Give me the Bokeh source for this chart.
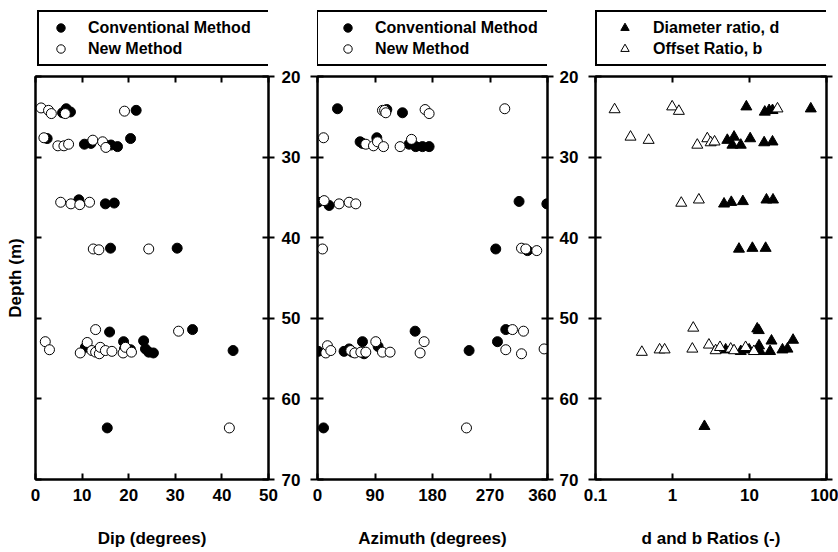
from bokeh.plotting import figure
from bokeh.layouts import row, column
from bokeh.models import (Range1d, LinearAxis, LogAxis, FixedTicker, Legend,
                          LegendItem, CustomJSTickFormatter)
from bokeh.embed import file_html
from bokeh.resources import INLINE

FONT = "Liberation Sans"

# ---------------- data ----------------
dip_conv = [5.8, 6.6, 7.5, 21.6, 2.5, 10.5, 11.9, 16.2, 17.6, 20.4, 9.3, 15.0, 16.9,
            16.1, 30.4, 15.9, 33.7, 10.7, 18.9, 19.1, 20.4, 23.2, 23.6, 24.3, 25.3, 42.4, 15.4]
depth_dip_conv = [24.5, 24.0, 24.4, 24.2, 27.7, 28.4, 28.3, 28.5, 28.7, 27.7, 35.3, 35.8, 35.7,
                  41.3, 41.3, 51.7, 51.4, 53.6, 52.9, 53.8, 53.9, 52.8, 53.8, 54.2, 54.3, 54.0, 63.6]
dip_new = [1.2, 2.8, 3.4, 6.4, 19.1, 1.8, 4.8, 6.1, 7.1, 12.3, 14.4, 15.1, 5.4, 7.6, 9.5, 11.6,
           12.4, 13.6, 24.3, 12.9, 30.7, 2.1, 3.0, 9.6, 11.1, 12.1, 12.9, 13.7, 13.9, 15.0, 16.4,
           18.8, 19.3, 20.6, 41.6]
depth_dip_new = [23.9, 24.2, 24.6, 24.6, 24.3, 27.6, 28.6, 28.6, 28.4, 27.9, 28.1, 28.8, 35.6, 35.8,
                 35.9, 35.6, 41.4, 41.5, 41.4, 51.4, 51.6, 52.9, 53.9, 54.3, 53.0, 54.0, 54.2, 54.4,
                 53.6, 54.0, 54.1, 54.3, 53.6, 54.2, 63.6]

az_conv = [31.3, 108.5, 133.0, 66.7, 70.4, 92.8, 143.4, 153.8, 164.3, 174.7, 1.0, 18.2, 315.5,
           359.0, 279.0, 328.7, 1.0, 41.6, 49.5, 54.8, 70.4, 72.9, 94.9, 152.8, 237.3, 281.7,
           294.7, 9.4]
depth_az_conv = [24.0, 24.1, 24.5, 28.1, 28.3, 27.6, 28.4, 28.7, 28.7, 28.7, 35.6, 36.0, 35.5,
                 35.8, 41.4, 41.6, 54.1, 54.1, 53.8, 54.2, 52.9, 54.4, 53.5, 51.6, 54.0, 52.9,
                 51.4, 63.6]
az_new = [101.7, 105.0, 106.9, 168.4, 174.7, 293.1, 9.4, 75.6, 87.6, 93.9, 103.3, 129.3, 147.1,
          10.4, 33.8, 49.5, 59.9, 7.8, 319.3, 326.0, 343.2, 13.0, 15.6, 20.8, 52.1, 58.4, 67.8,
          75.6, 91.2, 101.7, 113.6, 166.9, 160.6, 305.2, 322.4, 294.7, 319.3, 354.7, 233.2]
depth_az_new = [24.2, 24.2, 24.5, 24.1, 24.6, 24.0, 27.6, 28.4, 28.6, 28.1, 28.7, 28.7, 27.8,
                35.4, 35.8, 35.6, 35.8, 41.4, 41.3, 41.4, 41.6, 54.3, 53.4, 54.0, 54.0, 54.3, 54.2,
                54.2, 52.9, 54.2, 54.2, 52.9, 54.3, 51.4, 51.6, 53.9, 54.4, 53.8, 63.6]

ratio_d = [9.1, 15.8, 18.0, 19.9, 62.5, 5.15, 6.3, 6.0, 7.7, 10.2, 15.5, 19.9, 4.67, 5.8, 8.2,
           16.6, 20.2, 7.3, 10.9, 16.2, 12.6, 13.2, 4.9, 7.7, 9.9, 13.3, 13.7, 19.3, 18.5, 26.8,
           31.1, 36.8, 2.6]
depth_d = [23.75, 24.4, 24.2, 24.2, 24.0, 27.9, 27.5, 28.5, 28.5, 27.7, 28.2, 28.1, 35.8, 35.6,
           35.5, 35.3, 35.3, 41.4, 41.3, 41.3, 51.3, 51.5, 53.9, 54.1, 53.9, 53.4, 54.1, 52.8,
           54.1, 53.9, 53.8, 52.7, 63.4]
ratio_b = [0.177, 0.99, 1.21, 23.1, 0.285, 0.49, 2.1, 2.83, 3.13, 3.52, 1.3, 2.2, 1.86, 0.40,
           0.68, 0.79, 1.81, 2.97, 3.63, 4.14, 5.7, 6.3, 8.9, 11.4]
depth_b = [24.1, 23.75, 24.3, 24.0, 27.5, 27.9, 28.5, 27.7, 28.2, 28.1, 35.7, 35.3, 51.2, 54.2,
           53.9, 53.9, 53.8, 53.3, 54.0, 53.6, 53.8, 54.0, 53.6, 54.1]

depth_ticks = [20, 30, 40, 50, 60, 70]
dip_ticks = [0, 10, 20, 30, 40, 50]
az_ticks = [0, 90, 180, 270, 360]
ratio_ticks = [0.1, 1, 10, 100]

legend_labels_12 = ["Conventional Method", "New Method"]
legend_labels_3 = ["Diameter ratio, d", "Offset Ratio, b"]
x_titles = ["Dip (degrees)", "Azimuth (degrees)", "d and b Ratios (-)"]
y_title = "Depth (m)"

BLANK = CustomJSTickFormatter(code="return ''")
LW = 2
TICK_FS = "17px"
TITLE_FS = "17px"
LEG_H = 67
MAIN_H = 552 - LEG_H


def style_axis(ax, ticks, tin, tout, labels=True):
    ax.ticker = FixedTicker(ticks=ticks, minor_ticks=[])
    ax.major_tick_in = tin
    ax.major_tick_out = tout
    ax.minor_tick_line_color = None
    ax.axis_line_width = LW
    ax.major_tick_line_width = LW
    ax.axis_line_color = "black"
    ax.major_tick_line_color = "black"
    ax.major_label_text_font = FONT
    ax.major_label_text_font_style = "bold"
    ax.major_label_text_font_size = TICK_FS
    ax.major_label_text_color = "black"
    ax.axis_label_text_font = FONT
    ax.axis_label_text_font_style = "bold"
    ax.axis_label_text_font_size = TITLE_FS
    ax.axis_label_text_color = "black"
    if not labels:
        ax.formatter = BLANK
        ax.major_label_standoff = 0
        ax.major_label_text_font_size = "0px"


def make_fig(width, bl, br, x_range, xticks, xtitle, log=False, left_labels=True):
    p = figure(width=width, height=MAIN_H, x_range=x_range, y_range=Range1d(70, 20),
               x_axis_type="log" if log else "linear",
               output_backend="svg", toolbar_location=None,
               min_border_left=bl, min_border_right=br,
               min_border_top=76 - LEG_H, min_border_bottom=73)
    p.grid.visible = False
    p.outline_line_color = "black"
    p.outline_line_width = LW
    p.background_fill_color = "white"
    p.border_fill_color = "white"
    xa = p.xaxis[0]
    style_axis(xa, xticks, 6, 0)
    if log:
        xa.formatter = CustomJSTickFormatter(code="return String(tick)")
    xa.major_label_standoff = 9
    xa.axis_label = xtitle
    xa.axis_label_standoff = 25
    ya = p.yaxis[0]
    if left_labels:
        style_axis(ya, depth_ticks, 6, 7)
        ya.major_label_standoff = 10
    else:
        style_axis(ya, depth_ticks, 6, 0, labels=False)
    top = LogAxis() if log else LinearAxis()
    style_axis(top, xticks, 6, 0, labels=False)
    p.add_layout(top, "above")
    right = LinearAxis()
    style_axis(right, depth_ticks, 6, 6, labels=False)
    p.add_layout(right, "right")
    return p


def legend_fig(width, bl, br, labels, marker, xa, ya, xb, yb, loc, gw, standoff, lwid):
    # the series are plotted here only to give the legend its glyphs;
    # the y range keeps the points themselves out of view
    f = figure(width=width, height=LEG_H, x_range=Range1d(0, 1), y_range=Range1d(-2, -1),
               x_axis_location=None, y_axis_location=None,
               output_backend="svg", toolbar_location=None,
               min_border_left=bl, min_border_right=br, min_border_top=0, min_border_bottom=0)
    f.grid.visible = False
    f.outline_line_color = None
    f.background_fill_color = "white"
    f.border_fill_color = "white"
    ra = f.scatter(xa, ya, marker=marker, size=10, fill_color="black", line_color="black")
    rb = f.scatter(xb, yb, marker=marker, size=10, fill_color="white", line_color="black",
                   line_width=1)
    leg = Legend(items=[LegendItem(label=labels[0], renderers=[ra]),
                        LegendItem(label=labels[1], renderers=[rb])],
                 location=loc, orientation="vertical",
                 label_text_font=FONT, label_text_font_style="bold",
                 label_text_font_size="16px", label_text_color="black",
                 border_line_color="black", border_line_width=2, border_line_alpha=1.0,
                 background_fill_color="white", background_fill_alpha=1.0,
                 padding=5, spacing=0, margin=0,
                 glyph_width=gw, glyph_height=21, label_height=21,
                 label_standoff=standoff, label_width=lwid)
    f.add_layout(leg, "center")
    return f


# ---------- panel 1: dip ----------
p1 = make_fig(278, 35, 10, Range1d(0, 50), dip_ticks, x_titles[0], left_labels=False)
p1.yaxis[0].axis_label = y_title
p1.yaxis[0].axis_label_standoff = 11
p1.scatter(dip_conv, depth_dip_conv, marker="circle", size=10,
           fill_color="black", line_color="black")
p1.scatter(dip_new, depth_dip_new, marker="circle", size=10,
           fill_color="white", line_color="black", line_width=1)
l1 = legend_fig(278, 35, 10, legend_labels_12, "circle", dip_conv, depth_dip_conv,
                dip_new, depth_dip_new, (2, 1), 33, 11, 175)

# ---------- panel 2: azimuth ----------
p2 = make_fig(278, 39, 9, Range1d(0, 360), az_ticks, x_titles[1])
p2.scatter(az_conv, depth_az_conv, marker="circle", size=10,
           fill_color="black", line_color="black")
p2.scatter(az_new, depth_az_new, marker="circle", size=10,
           fill_color="white", line_color="black", line_width=1)
l2 = legend_fig(278, 39, 9, legend_labels_12, "circle", az_conv, depth_az_conv,
                az_new, depth_az_new, (-1, 1), 49, 3, 171)

# ---------- panel 3: ratios ----------
p3 = make_fig(282, 39, 12, Range1d(0.1, 100), ratio_ticks, x_titles[2], log=True)
p3.scatter(ratio_d, depth_d, marker="triangle", size=11,
           fill_color="black", line_color="black")
p3.scatter(ratio_b, depth_b, marker="triangle", size=11,
           fill_color="white", line_color="black", line_width=1)
l3 = legend_fig(282, 39, 12, legend_labels_3, "triangle", ratio_d, depth_d,
                ratio_b, depth_b, (0, 1), 45, 6, 171)

layout = row(column(l1, p1), column(l2, p2), column(l3, p3))
open("out.html", "w").write(file_html(layout, INLINE))
